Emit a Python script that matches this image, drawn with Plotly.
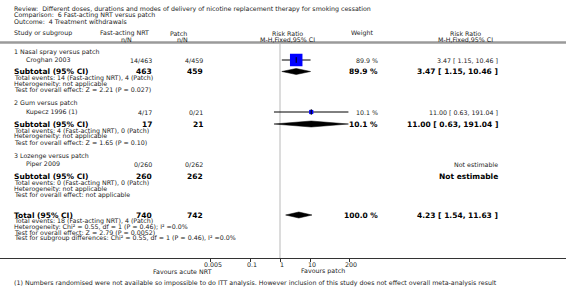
import math
import plotly.graph_objects as go

# ---------------- data ----------------
review = "Review:  Different doses, durations and modes of delivery of nicotine replacement therapy for smoking cessation"
comparison = "Comparison:  6 Fast-acting NRT versus patch"
outcome = "Outcome:  4 Treatment withdrawals"

subgroups = ["1 Nasal spray versus patch", "2 Gum versus patch", "3 Lozenge versus patch"]
studies = ["Croghan 2003", "Kupecz 1996 (1)", "Piper 2009"]
nrt_events = [14, 4, 0]
nrt_totals = [463, 17, 260]
patch_events = [4, 0, 0]
patch_totals = [459, 21, 262]
study_rr = [3.47, 11.00, None]
study_lo = [1.15, 0.63, None]
study_hi = [10.46, 191.04, None]
study_weight = [89.9, 10.1, None]

sub_rr = [3.47, 11.00, None]
sub_lo = [1.15, 0.63, None]
sub_hi = [10.46, 191.04, None]
sub_weight = [89.9, 10.1, None]
sub_het = ["Heterogeneity: not applicable"] * 3
sub_test = ["Test for overall effect: Z = 2.21 (P = 0.027)",
            "Test for overall effect: Z = 1.65 (P = 0.10)",
            "Test for overall effect: not applicable"]

total_rr, total_lo, total_hi, total_weight = 4.23, 1.54, 11.63, 100.0
total_het = "Heterogeneity: Chi² = 0.55, df = 1 (P = 0.46); I² =0.0%"
total_test = "Test for overall effect: Z = 2.79 (P = 0.0052)"
subgroup_test = "Test for subgroup differences: Chi² = 0.55, df = 1 (P = 0.46), I² =0.0%"

tick_vals = [0.005, 0.1, 1, 10, 200]
tick_text = ["0.005", "0.1", "1", "10", "200"]
favours_left = "Favours acute NRT"
favours_right = "Favours patch"
footnote = ("(1) Numbers randomised were not available so impossible to do ITT analysis. "
            "However inclusion of this study does not effect overall meta-analysis result")

# ---------------- layout / style ----------------
W, H = 566, 288
FONT = "DejaVu Sans"
FS = 6.3
FSB = 7.5
TXT = "#222222"
AXIS_Y = 258

# row positions (pixels from top)
sub_title_y = [52, 103, 156]
study_y = [60, 112, 164]
sub_y = [71.5, 124, 176.5]
sub_te_y = [78, 130.5, 183]
sub_het_y = [83.5, 136, 189]
sub_test_y = [89, 142, 195]
tot_y, tot_te_y, tot_het_y, tot_test_y, sg_y = 215, 221, 226.5, 232, 238

X_LEFT = 12.7
X_STUDY = 25
X_NRT = 153
X_PATCH = 204
X_W = 379
X_RR = 499

fig = go.Figure()
ann = []


def text(x, y, s, anchor="left", bold=False, size=None):
    ann.append(dict(
        x=x, y=y, xref="x2", yref="y", text=("<b>%s</b>" % s) if bold else s,
        showarrow=False, xanchor=anchor, yanchor="middle", borderpad=0,
        font=dict(family=FONT, size=size or (FSB if bold else FS), color="#000" if bold else TXT),
    ))


def rr_str(r, lo, hi):
    return "%.2f [ %.2f, %.2f ]" % (r, lo, hi)


# header
text(X_LEFT, 9, review)
text(X_LEFT, 15, comparison)
text(X_LEFT, 21, outcome)
text(X_LEFT, 33, "Study or subgroup")
text(124, 33, "Fast-acting NRT", anchor="center")
text(126, 39, "n/N", anchor="center")
text(178, 33, "Patch", anchor="center")
text(182, 39, "n/N", anchor="center")
text(287, 33, "Risk Ratio", anchor="center")
text(287, 39, "M-H,Fixed,95% CI", anchor="center")
text(362, 33, "Weight", anchor="center")
text(465, 33, "Risk Ratio", anchor="center")
text(465, 39, "M-H,Fixed,95% CI", anchor="center")

diamond_h = 3.0
for i in range(3):
    text(X_LEFT, sub_title_y[i], subgroups[i])
    text(X_STUDY, study_y[i], studies[i])
    text(X_NRT, study_y[i], "%d/%d" % (nrt_events[i], nrt_totals[i]), anchor="right")
    text(X_PATCH, study_y[i], "%d/%d" % (patch_events[i], patch_totals[i]), anchor="right")
    text(X_LEFT, sub_y[i], "Subtotal (95% CI)", bold=True)
    text(X_NRT, sub_y[i], str(nrt_totals[i]), anchor="right", bold=True)
    text(X_PATCH, sub_y[i], str(patch_totals[i]), anchor="right", bold=True)
    text(X_LEFT, sub_te_y[i], "Total events: %d (Fast-acting NRT), %d (Patch)" % (nrt_events[i], patch_events[i]))
    text(X_LEFT, sub_het_y[i], sub_het[i])
    text(X_LEFT, sub_test_y[i], sub_test[i])
    if study_rr[i] is not None:
        text(X_W, study_y[i], "%.1f %%" % study_weight[i], anchor="right")
        text(X_RR, study_y[i], rr_str(study_rr[i], study_lo[i], study_hi[i]), anchor="right")
        fig.add_trace(go.Scatter(x=[study_lo[i], study_hi[i]], y=[study_y[i]] * 2, mode="lines",
                                 line=dict(color="#000", width=1), hoverinfo="skip", showlegend=False))
        fig.add_trace(go.Scatter(x=[study_rr[i]], y=[study_y[i]], mode="markers",
                                 marker=dict(symbol="square", color="#0000ff",
                                             size=12.5 * math.sqrt(study_weight[i] / 89.9),
                                             line=dict(width=0)),
                                 hoverinfo="skip", showlegend=False))
        fig.add_trace(go.Scatter(x=[study_rr[i]], y=[study_y[i]], mode="markers",
                                 marker=dict(symbol="line-ns", size=4, line=dict(color="#000", width=1)),
                                 hoverinfo="skip", showlegend=False))
    else:
        text(X_RR, study_y[i], "Not estimable", anchor="right")
    if sub_rr[i] is not None:
        text(X_W, sub_y[i], "%.1f %%" % sub_weight[i], anchor="right", bold=True)
        text(X_RR, sub_y[i], rr_str(sub_rr[i], sub_lo[i], sub_hi[i]), anchor="right", bold=True)
        y0 = sub_y[i]
        fig.add_trace(go.Scatter(
            x=[sub_lo[i], sub_rr[i], sub_hi[i], sub_rr[i], sub_lo[i]],
            y=[y0, y0 - diamond_h, y0, y0 + diamond_h, y0],
            mode="lines", fill="toself", fillcolor="#000", line=dict(color="#000", width=0.5),
            hoverinfo="skip", showlegend=False))
    else:
        text(X_RR, sub_y[i], "Not estimable", anchor="right", bold=True)

# total
text(X_LEFT, tot_y, "Total (95% CI)", bold=True)
text(X_NRT, tot_y, str(sum(nrt_totals)), anchor="right", bold=True)
text(X_PATCH, tot_y, str(sum(patch_totals)), anchor="right", bold=True)
text(X_W, tot_y, "%.1f %%" % total_weight, anchor="right", bold=True)
text(X_RR, tot_y, rr_str(total_rr, total_lo, total_hi), anchor="right", bold=True)
text(X_LEFT, tot_te_y, "Total events: %d (Fast-acting NRT), %d (Patch)" % (sum(nrt_events), sum(patch_events)))
text(X_LEFT, tot_het_y, total_het)
text(X_LEFT, tot_test_y, total_test)
text(X_LEFT, sg_y, subgroup_test)
fig.add_trace(go.Scatter(
    x=[total_lo, total_rr, total_hi, total_rr, total_lo],
    y=[tot_y, tot_y - diamond_h, tot_y, tot_y + diamond_h, tot_y],
    mode="lines", fill="toself", fillcolor="#000", line=dict(color="#000", width=0.5),
    hoverinfo="skip", showlegend=False))

# favours + footnote
text(182.5, 271, favours_left, anchor="center")
text(323, 271, favours_right, anchor="center")
text(X_LEFT, 283, footnote)

fig.add_trace(go.Scatter(x=[0, W], y=[0, 0], xaxis="x2", yaxis="y", mode="markers",
                         marker=dict(opacity=0), hoverinfo="skip", showlegend=False))

ppd = 30.0  # pixels per decade
x_at_1 = 280.0
log_range = [-x_at_1 / ppd, (W - x_at_1) / ppd]

shapes = [
    dict(type="line", xref="paper", yref="y", x0=0, x1=1, y0=42.5, y1=42.5,
         line=dict(color="#9a9a9a", width=2.5)),
    dict(type="line", xref="x", yref="y", x0=1, x1=1, y0=44, y1=AXIS_Y,
         line=dict(color="#dcdcdc", width=2), layer="below"),
]

fig.update_layout(
    width=W, height=H, autosize=False,
    margin=dict(l=0, r=0, t=0, b=0),
    paper_bgcolor="white", plot_bgcolor="white",
    showlegend=False,
    annotations=ann,
    shapes=shapes,
    xaxis=dict(type="log", range=log_range, domain=[0, 1], anchor="free",
               position=1 - AXIS_Y / H, showline=True, linecolor="#333", linewidth=1,
               showgrid=False, zeroline=False, tickmode="array", tickvals=tick_vals,
               ticktext=tick_text, ticks="outside", ticklen=3, tickcolor="#333",
               tickfont=dict(family=FONT, size=FS, color=TXT), ticklabelshift=2,
               ticklabelstandoff=-3),
    xaxis2=dict(range=[0, W], overlaying="x", visible=False, anchor="y"),
    yaxis=dict(range=[H, 0], domain=[0, 1], visible=False, showgrid=False, zeroline=False),
)

fig.write_html("out.html", config={"displayModeBar": False},
               post_script="document.body.style.margin='0';document.body.style.overflow='hidden';")
